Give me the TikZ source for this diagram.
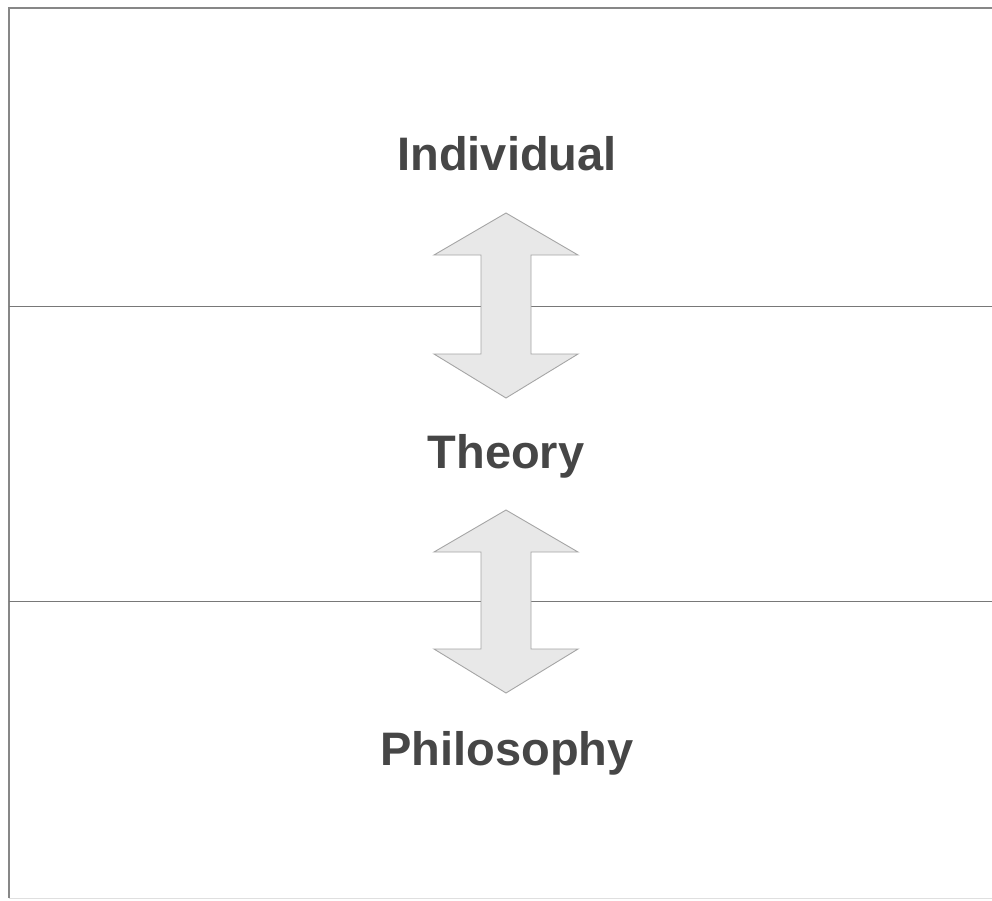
\documentclass[tikz,border=0pt]{standalone}
\usepackage{fontspec}
\setmainfont{Liberation Sans}
\usetikzlibrary{positioning}
\usepackage{xcolor}
\definecolor{framegray}{RGB}{135,135,135}
\definecolor{rulegray}{RGB}{120,120,120}
\definecolor{arrowfill}{RGB}{232,232,232}
\definecolor{arrowline}{RGB}{165,165,165}
\definecolor{labelgray}{RGB}{70,70,70}

\tikzset{
  levelname/.style={font=\fontsize{47}{56}\selectfont\bfseries, text=labelgray, anchor=base, inner sep=0pt},
  bigarrow/.style={fill=arrowfill, draw=arrowline, line width=0.9pt, line join=miter},
}

% two-headed block arrow: centre x, top tip y, bottom tip y
\newcommand{\twowayarrow}[3]{%
  \draw[bigarrow] (#1,#2) -- (#1+72,#2+42) -- (#1+25,#2+42) -- (#1+25,#3-44)
    -- (#1+72,#3-44) -- (#1,#3) -- (#1-72,#3-44) -- (#1-25,#3-44)
    -- (#1-25,#2+42) -- (#1-72,#2+42) -- cycle;}

\begin{document}
\begin{tikzpicture}[x=1pt, y=-1pt]
  \useasboundingbox (0,0) rectangle (992,900);

  % frame
  \draw[framegray, line width=1.5pt] (9,898) -- (9,8) -- (995,8);
  \draw[gray!25, line width=1pt] (9,898) -- (995,898);

  % level separators
  \draw[rulegray, line width=1pt] (9,306) -- (995,306);
  \draw[rulegray, line width=1pt] (9,601) -- (995,601);

  % arrows
  \twowayarrow{506}{213}{398}
  \twowayarrow{506}{510}{693}

  % labels
  \node[levelname] (indiv) at (507,170) {Individual};
  \node[levelname] (theory) at (506,468) {Theory};
  \node[levelname] (philo) at (507,765) {Philosophy};
\end{tikzpicture}
\end{document}
